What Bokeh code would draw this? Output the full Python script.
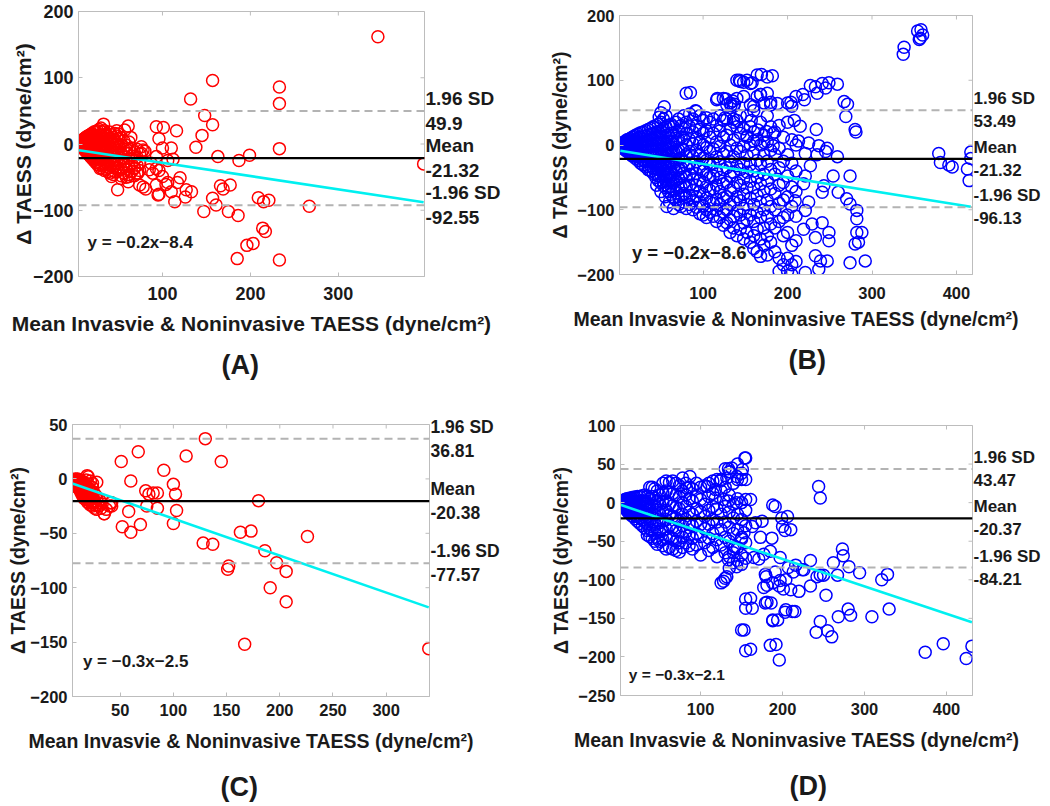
import math
from bokeh.plotting import figure
from bokeh.layouts import row, column
from bokeh.models import Span, Label, FixedTicker, Range1d, LinearAxis, Title
from bokeh.embed import file_html
from bokeh.resources import INLINE

FONT = "Liberation Sans"

# ---------------- data ----------------
# Panel A : dense core, x -> list of differences
a_core = {5: [2, 0, -2], 6: [3, -1, -3], 7: [4, 1, -2, -4], 8: [5, 2, -1, -5], 9: [6, 2, -2, -6],
          10: [7, 3, -1, -4, -7], 11: [8, 4, 0, -4, -8], 12: [9, 5, 1, -3, -7, -10], 13: [10, 5, 0, -5, -10],
          14: [11, 6, 1, -4, -9, -13], 15: [12, 7, 2, -3, -8, -14], 16: [12, 6, 0, -6, -12, -16],
          17: [13, 7, 1, -5, -11, -17], 18: [14, 8, 2, -4, -10, -16, -19], 19: [15, 8, 1, -6, -13, -20],
          20: [16, 9, 2, -5, -12, -19, -22], 22: [18, 10, 2, -6, -14, -22, -25], 24: [19, 11, 3, -5, -13, -21, -28],
          26: [20, 12, 4, -4, -12, -20, -28, -31], 28: [22, 13, 4, -5, -14, -23, -32], 30: [24, 14, 5, -4, -13, -22, -31, -36],
          32: [18, 8, -2, -12, -22, -32], 34: [20, 10, 0, -10, -20, -30, -40], 36: [15, 5, -6, -17, -28, -38],
          38: [12, 2, -9, -20, -31, -42], 40: [18, 8, -3, -14, -25, -36, -44], 42: [14, 3, -8, -19, -30, -40],
          44: [10, 0, -12, -24, -35, -46], 46: [16, 5, -6, -18, -30, -42], 48: [12, 0, -12, -24, -36],
          50: [8, -4, -16, -28, -40], 53: [10, -2, -14, -26, -38, -48], 56: [5, -8, -20, -32, -44],
          59: [-2, -14, -26, -38, -50], 62: [3, -10, -22, -34, -46], 65: [-6, -18, -30, -42],
          68: [-12, -24, -36, -48], 71: [-8, -20, -32, -44], 74: [-15, -28, -40]}
a_other = [(345, 162), (157, 96), (233, 86), (233, 61), (132, 68), (148, 43), (157, 29), (145, 13), (138, -5),
           (233, -7), (163, -19), (187, -25), (199, -17), (397, -30), (267, -94), (209, -81), (215, -87), (221, -85),
           (147, -102), (161, -92), (157, -82), (175, -102), (186, -108), (214, -127), (217, -132), (196, -153),
           (203, -150), (185, -173), (233, -175), (166, -63), (169, -68), (177, -62), (133, -72), (127, -69),
           (120, -51), (114, -87), (126, -80), (117, -58), (106, -58), (110, -72), (93, 26), (101, 25), (116, 20),
           (96, 8), (110, -6), (100, -6), (93, -19), (112, -23), (106, -25), (96, -40), (93, -37), (93, -62),
           (96, -76), (104, -61), (95, -77), (76, -4), (78, -9), (76, -14), (80, -11), (74, -62), (81, -68),
           (78, -65), (87, -29), (89, -44), (85, -39), (100, -49), (61, 27), (57, 21), (64, 10), (59, -8), (48, 20),
           (50, 15), (44, 7), (51, -3), (33, 30), (49, -69), (42, -49), (29, -37), (62, -49), (61, -57), (53, -52),
           (68, -37), (72, -44)]

# Panel B
b_core = {2: [1, -1], 4: [3, 0, -3], 6: [4, 0, -4, -6], 8: [6, 2, -3, -8], 10: [8, 3, -2, -7, -10],
          12: [9, 4, -1, -6, -12], 14: [10, 5, 0, -5, -10, -14], 16: [12, 6, 0, -6, -12, -17],
          18: [13, 7, 1, -5, -11, -17], 20: [15, 8, 2, -4, -10, -16, -21], 23: [17, 10, 3, -4, -11, -18, -24],
          26: [19, 12, 4, -3, -10, -17, -24, -28], 29: [20, 13, 5, -2, -9, -16, -23, -31],
          32: [22, 14, 6, -2, -10, -18, -26, -34], 35: [24, 16, 7, -1, -9, -17, -25, -33, -38],
          38: [26, 17, 8, 0, -8, -16, -24, -32, -40], 41: [28, 18, 9, 0, -9, -18, -27, -36, -44],
          44: [30, 20, 10, 1, -8, -17, -26, -35, -44, -50], 47: [32, 21, 11, 2, -8, -18, -28, -38, -48, -55],
          50: [35, 22, 12, 2, -8, -18, -28, -38, -48, -58], 53: [40, 25, 14, 3, -7, -17, -27, -37, -47, -57, -63],
          56: [45, 28, 15, 4, -6, -16, -26, -36, -46, -56, -66], 59: [30, 16, 5, -5, -15, -25, -35, -45, -55, -65, -72],
          62: [32, 18, 6, -4, -14, -24, -34, -44, -54, -64, -76], 65: [28, 14, 2, -10, -22, -34, -46, -58, -70, -82],
          68: [35, 20, 5, -10, -25, -40, -55, -70, -85], 71: [40, 22, 8, -8, -22, -38, -52, -66, -80, -92],
          74: [30, 12, -5, -20, -35, -50, -65, -78, -95], 77: [45, 25, 10, -8, -26, -44, -60, -75, -88],
          80: [80, 35, 18, 0, -15, -32, -48, -64, -80, -98], 84: [48, 28, 8, -10, -28, -45, -62, -78, -92],
          88: [40, 20, 2, -18, -36, -52, -70, -86, -100], 92: [52, 30, 10, -8, -26, -44, -62, -80, -96],
          96: [45, 24, 4, -16, -34, -54, -72, -88, -106], 100: [38, 18, 0, -20, -40, -58, -76, -94, -108],
          104: [42, 22, -4, -24, -45, -64, -82, -100, -112], 108: [35, 12, -10, -30, -50, -70, -88, -104],
          112: [40, 18, -6, -28, -48, -68, -90, -110], 116: [70, 30, 5, -18, -40, -62, -84, -100, -118],
          120: [45, 22, -2, -26, -50, -72, -92, -112], 124: [72, 38, 12, -14, -38, -60, -82, -104, -124],
          128: [62, 40, 15, -10, -35, -58, -80, -100, -120], 132: [65, 25, 0, -25, -48, -70, -92, -115, -135],
          136: [60, 35, 8, -18, -42, -66, -88, -110, -128], 140: [100, 72, 28, -5, -32, -58, -80, -102, -140],
          144: [98, 45, 18, -10, -38, -62, -86, -108, -130], 148: [75, 25, -2, -28, -52, -76, -98, -120, -145],
          152: [100, 45, 12, -16, -42, -66, -92, -115, -135], 156: [95, 62, 28, 0, -30, -56, -82, -108, -150],
          160: [60, 20, -12, -40, -66, -92, -118, -140, -160], 164: [108, 75, 8, -24, -50, -78, -104, -130, -165],
          168: [78, 35, 0, -30, -60, -88, -112, -145, -172], 172: [65, 15, -15, -45, -72, -100, -128, -155],
          176: [105, 45, 5, -25, -55, -85, -110, -140, -170], 180: [62, 28, -8, -38, -68, -95, -122, -150],
          185: [20, -15, -45, -75, -100, -128, -165], 190: [30, -5, -35, -62, -90, -118, -175, -195],
          195: [12, -25, -58, -85, -112, -140, -185], 200: [65, 35, -15, -48, -80, -108, -135, -175, -195],
          205: [60, 8, -28, -65, -95, -155, -185, -200], 210: [75, 0, -40, -72, -110, -148, -180]}
b_other = [(169, 109), (182, 107), (143, 100), (148, 97), (158, 96), (85, 81), (117, 72), (127, 71), (135, 68),
           (137, 63), (133, 61), (168, 78), (176, 80), (180, 66), (188, 64), (54, 59), (50, 50), (48, 43), (91, 53),
           (126, 42), (136, 40), (140, 38), (160, 53), (157, 38), (165, 23), (175, 21), (183, 18), (152, 14),
           (160, 6), (172, 4), (183, -1), (204, 66), (208, 38), (337, 140), (338, 151), (354, 176), (358, 178),
           (356, 163), (360, 170), (357, 165), (379, -13), (381, -27), (391, -31), (395, -34), (413, -37),
           (415, -55), (417, -11), (417, -21), (227, 92), (233, 90), (241, 95), (249, 96), (259, 94), (245, 88),
           (235, 80), (218, 78), (220, 70), (267, 67), (271, 63), (269, 44), (280, 24), (281, 20), (215, 29),
           (234, 24), (213, 6), (225, 3), (237, -1), (247, -5), (259, -18), (235, -15), (245, -10), (221, -13),
           (227, -32), (254, -48), (274, -48), (221, -48), (219, -60), (243, -63), (241, -73), (260, -73),
           (270, -83), (274, -91), (282, -101), (282, -114), (209, -86), (225, -88), (221, -101), (229, -122),
           (241, -120), (219, -130), (249, -135), (233, -143), (249, -148), (282, -135), (288, -135), (284, -150),
           (280, -153), (233, -171), (239, -179), (247, -179), (274, -182), (292, -179), (237, -192), (221, -197),
           (55, -80), (57, -95), (60, -88), (65, -98), (50, -72), (45, -62)]

# Panel C
c_core = {5: [-2], 6: [-1, -3], 7: [-2, -4], 8: [0, -3, -5], 9: [-1, -4, -6], 10: [0, -3, -6, -8],
          11: [-2, -5, -8], 12: [-1, -4, -7, -10], 13: [-3, -6, -9, -12], 14: [-2, -5, -8, -11, -14],
          15: [-4, -7, -10, -13, -16], 16: [-3, -6, -9, -12, -15, -18], 17: [-8, -11, -14, -17],
          18: [-1, -10, -13, -19], 19: [3, -7, -12, -16, -21], 20: [2, -5, -14, -18, -22], 21: [-9, -16, -20],
          22: [-2, -12, -19, -24], 23: [-15, -21], 24: [-4, -8, -18, -25], 25: [-12, -22], 26: [-20, -27],
          27: [-15, -24], 28: [-3, -18, -28], 29: [-22], 30: [-25], 31: [-20], 32: [-27], 33: [-23],
          35: [-32], 37: [-28], 40: [-25], 42: [-22]}
c_other = [(130, 37), (67, 25), (51, 16), (112, 21), (145, 16), (91, 8), (60, -2), (100, -5), (102, -14),
           (103, -29), (100, -41), (74, -11), (77, -14), (81, -13), (85, -13), (75, -25), (85, -27), (58, -30),
           (52, -44), (60, -49), (69, -42), (128, -59), (137, -60), (163, -49), (173, -48), (180, -20),
           (226, -53), (186, -66), (197, -77), (206, -85), (191, -100), (206, -113), (152, -80), (151, -83),
           (167, -152), (340, -156), (35, -32), (42, -25), (41, -22)]

# Panel D
d_core = {2: [1, -1], 4: [2, 0, -3], 6: [3, 0, -3, -6], 8: [4, 0, -4, -8], 10: [5, 1, -3, -7, -10],
          12: [5, 1, -3, -7, -11, -13], 14: [6, 2, -2, -6, -10, -14], 16: [6, 2, -3, -8, -13, -17],
          18: [7, 2, -3, -8, -13, -18], 20: [7, 2, -4, -10, -16, -21], 23: [8, 2, -5, -12, -18, -24],
          26: [8, 1, -6, -13, -20, -27], 29: [9, 2, -6, -14, -22, -30], 32: [10, 2, -7, -16, -25, -33],
          35: [8, 0, -9, -18, -27, -36, -42], 38: [20, 5, -4, -14, -24, -34, -44], 41: [20, 8, -3, -14, -25, -36, -46],
          44: [18, 6, -5, -16, -28, -40, -50], 47: [15, 2, -10, -22, -34, -46, -54], 50: [10, -2, -14, -26, -38, -50],
          54: [25, 12, 0, -12, -24, -36, -48, -56], 58: [28, 15, 2, -10, -22, -34, -46, -60],
          62: [26, 14, -2, -16, -30, -44, -58], 66: [28, 12, -4, -18, -32, -46, -60], 70: [25, 10, -6, -20, -36, -50, -62],
          74: [22, 8, -8, -24, -38, -52, -64], 78: [32, 15, 0, -15, -30, -45, -58], 82: [25, 10, -5, -22, -38, -52],
          86: [20, 5, -12, -28, -42, -56], 90: [18, 2, -15, -30, -46, -60], 95: [25, 8, -8, -24, -40, -55],
          100: [20, 4, -12, -28, -44, -68], 105: [22, -2, -18, -34, -52], 110: [25, 8, -10, -28, -46, -62],
          115: [28, 12, -5, -22, -40, -58], 120: [30, -8, -25, -48, -70], 125: [30, 15, -15, -35, -55, -104],
          130: [44, 20, -5, -25, -45, -65, -98], 135: [40, 10, -12, -32, -50, -70, -85], 140: [25, -2, -20, -40, -60, -78],
          145: [50, 30, 5, -15, -35, -58, -75], 150: [30, 0, -22, -45, -68, -80, -165],
          155: [58, -10, -30, -52, -72, -125, -137, -192]}
d_other = [(244, 21), (246, 6), (273, -60), (274, -69), (262, -78), (281, -83), (294, -91), (234, -75), (224, -87),
           (226, -87), (216, -81), (242, -96), (246, -94), (250, -94), (267, -94), (234, -108), (220, -115),
           (253, -120), (321, -100), (328, -93), (215, -141), (246, -154), (241, -168), (255, -166), (260, -174),
           (268, -148), (280, -138), (283, -146), (309, -148), (330, -138), (374, -194), (396, -183), (424, -202),
           (431, -186), (154, 58), (138, 45), (151, 43), (155, 30), (144, 34), (150, 38), (134, 44), (136, 40),
           (132, 32), (124, 28), (118, 17), (108, 21), (87, 34), (83, 19), (128, 4), (118, 6), (134, 2), (144, 0),
           (155, 4), (161, 4), (188, -3), (206, -18), (210, -35), (175, -24), (163, -31), (153, -39), (150, -47),
           (142, -57), (140, -65), (134, -74), (132, -96), (128, -102), (144, -83), (180, -96), (188, -104),
           (196, -108), (204, -100), (210, -113), (186, -130), (204, -139), (212, -141), (194, -152), (192, -184),
           (196, -204), (161, -124), (163, -137), (153, -165), (161, -190), (188, -152), (167, -26), (173, -45),
           (165, -71), (171, -73), (177, -67), (179, -93), (181, -129), (188, -153), (185, -185), (191, -90),
           (187, -46), (185, -63), (191, -5), (199, -20), (200, -31), (203, -36), (197, -71), (197, -101),
           (201, -112), (203, -142), (207, -84), (213, -90), (177, -110), (181, -107), (179, -130)]

# Bland-Altman statistics and fits
means = [-21.32, -21.32, -20.38, -20.37]
sd_upper = [49.9, 53.49, 36.81, 43.47]
sd_lower = [-92.55, -96.13, -77.57, -84.21]
slopes = [-0.2, -0.208, -0.34, -0.355]
intercepts = [-8.4, -8.6, -2.5, -2.1]
equations = ["y = \u22120.2x\u22128.4", "y = \u22120.2x\u22128.6", "y = \u22120.3x\u22122.5", "y = \u22120.3x\u22122.1"]
captions = ["(A)", "(B)", "(C)", "(D)"]
x_ranges = [(4.5, 398), (1, 419), (5.2, 340.7), (2.3, 431.7)]
y_ranges = [(-200, 200), (-200, 200), (-200, 50), (-250, 100)]
x_ticks = [[100, 200, 300], [100, 200, 300, 400], [50, 100, 150, 200, 250, 300], [100, 200, 300, 400]]
y_ticks = [[-200, -100, 0, 100, 200], [-200, -100, 0, 100, 200], [-200, -150, -100, -50, 0, 50],
           [-250, -200, -150, -100, -50, 0, 50, 100]]
eq_pos = [(14.7, -149), (15.7, -166), (15, -168), (12.4, -223)]

X_LABEL = "Mean Invasvie & Noninvasive TAESS (dyne/cm\u00b2)"
Y_LABEL = "\u0394 TAESS (dyne/cm\u00b2)"


def expand(core, other):
    xs, ys = [], []
    for k, vals in core.items():
        for v in vals:
            xs.append(k)
            ys.append(v)
    for x, y in other:
        xs.append(x)
        ys.append(y)
    return xs, ys


GRAY = "#bdbdbd"
INK = "#1a1a1a"

# per-panel layout: (width, height, border l, r, t, b)
GEOM = [(520, 400, 78, 96, 11, 124), (528, 400, 99, 76, 15, 126),
        (520, 404, 72, 91, 24, 108), (528, 404, 100, 76, 25, 109)]
# per-panel styling: tick font, axis-label font, side font, eq font, x tick standoff, x label standoff, y-label standoff
STYLE = [("18px", "21px", "19px", "17px", 10, 9, -5), ("16.5px", "19.5px", "17px", "18.5px", 12, 6, 3),
         ("16.5px", "19.5px", "17.5px", "17px", 7, 11, -2), ("16.5px", "19.5px", "17px", "15.5px", 7, 11, 3)]
# caption: (horizontal offset from frame left, spacer standoff, spacer font, title standoff)
CAP = [(143, 6, "1px", 0), (169, 6, "1px", 0), (148, 1, "10px", 0), (169, 1, "10px", 0)]


def panel(i, xs, ys, color):
    w, h, bl, br, bt, bb = GEOM[i]
    tf, lf, sf, ef, s1, s2, s3 = STYLE[i]
    xr, yr = x_ranges[i], y_ranges[i]
    p = figure(width=w, height=h, min_border_left=bl, min_border_right=br,
               min_border_top=bt, min_border_bottom=bb, x_range=Range1d(*xr), y_range=Range1d(*yr),
               output_backend="svg", toolbar_location=None)
    p.grid.visible = False
    p.outline_line_color = GRAY
    p.outline_line_width = 1
    p.background_fill_color = "white"
    p.border_fill_color = "white"
    p.xaxis.ticker = FixedTicker(ticks=x_ticks[i])
    p.yaxis.ticker = FixedTicker(ticks=y_ticks[i])
    for ax in (p.xaxis[0], p.yaxis[0]):
        ax.axis_line_color = GRAY
        ax.major_tick_line_color = GRAY
        ax.major_tick_in = 4
        ax.major_tick_out = 0
        ax.minor_tick_line_color = None
        ax.major_label_text_font = FONT
        ax.major_label_text_font_size = tf
        ax.major_label_text_font_style = "bold"
        ax.major_label_text_color = INK
        ax.axis_label_text_font = FONT
        ax.axis_label_text_font_size = lf
        ax.axis_label_text_font_style = "bold"
        ax.axis_label_text_color = INK
    p.xaxis.axis_label = X_LABEL
    p.yaxis.axis_label = Y_LABEL
    p.xaxis.major_label_standoff = s1
    p.xaxis.axis_label_standoff = s2
    p.yaxis.major_label_standoff = 5
    p.yaxis.axis_label_standoff = s3

    p.scatter(xs, ys, marker="circle", size=12, fill_color=None, line_color=color, line_width=1.5)

    # mirrored tick marks on the top and right edges of the box (only the inner half shows)
    p.scatter(x_ticks[i], [yr[1]] * len(x_ticks[i]), marker="dash", angle=math.pi / 2, size=8,
              line_color=GRAY, line_width=1)
    p.scatter([xr[1]] * len(y_ticks[i]), y_ticks[i], marker="dash", size=8, line_color=GRAY, line_width=1)

    for v, dash, c, lw in ((sd_upper[i], "8 5", "#b3b3b3", 2), (sd_lower[i], "8 5", "#b3b3b3", 2),
                           (means[i], "solid", "black", 2.2)):
        p.add_layout(Span(location=v, dimension="width", line_color=c, line_width=lw, line_dash=dash))

    x0, x1 = min(xs), max(xs)
    p.line([x0, x1], [slopes[i] * x0 + intercepts[i], slopes[i] * x1 + intercepts[i]],
           line_color="#00f0f0", line_width=2.6)

    # limits of agreement written at the right edge
    side = LinearAxis(ticker=FixedTicker(ticks=[sd_upper[i], means[i], sd_lower[i]]),
                      major_label_overrides={sd_upper[i]: "1.96 SD\n" + str(sd_upper[i]),
                                             means[i]: "Mean\n" + str(means[i]),
                                             sd_lower[i]: "-1.96 SD\n" + str(sd_lower[i])},
                      axis_line_color=None, major_tick_line_color=None, minor_tick_line_color=None,
                      major_tick_in=0, major_tick_out=0, minor_tick_in=0, minor_tick_out=0,
                      major_label_standoff=1, major_label_text_font=FONT, major_label_text_font_size=sf,
                      major_label_text_font_style="bold", major_label_text_color=INK,
                      major_label_text_line_height=1.2)
    p.add_layout(side, "right")

    p.add_layout(Label(x=eq_pos[i][0], y=eq_pos[i][1], text=equations[i], text_font=FONT,
                       text_font_size=ef, text_font_style="bold", text_color=INK, text_baseline="middle"))

    off, spacer, sfont, st = CAP[i]
    gap = LinearAxis(ticker=FixedTicker(ticks=[]), axis_line_color=None, major_tick_line_color=None,
                     minor_tick_line_color=None, major_tick_in=0, major_tick_out=0,
                     minor_tick_in=0, minor_tick_out=0, major_label_standoff=0,
                     axis_label=" ", axis_label_standoff=spacer, axis_label_text_font_size=sfont)
    p.add_layout(gap, "below")
    p.add_layout(Title(text=captions[i], align="left", offset=off, standoff=st, text_font=FONT,
                       text_font_size="27px", text_font_style="bold", text_color=INK), "below")
    return p


ax_, ay_ = expand(a_core, a_other)
bx_, by_ = expand(b_core, b_other)
cx_, cy_ = expand(c_core, c_other)
dx_, dy_ = expand(d_core, d_other)

pA = panel(0, ax_, ay_, "#ff0000")
pB = panel(1, bx_, by_, "#0000ff")
pC = panel(2, cx_, cy_, "#ff0000")
pD = panel(3, dx_, dy_, "#0000ff")

layout = column(row(column(pA), column(pB)), row(column(pC), column(pD)))
open("out.html", "w").write(file_html(layout, INLINE))
